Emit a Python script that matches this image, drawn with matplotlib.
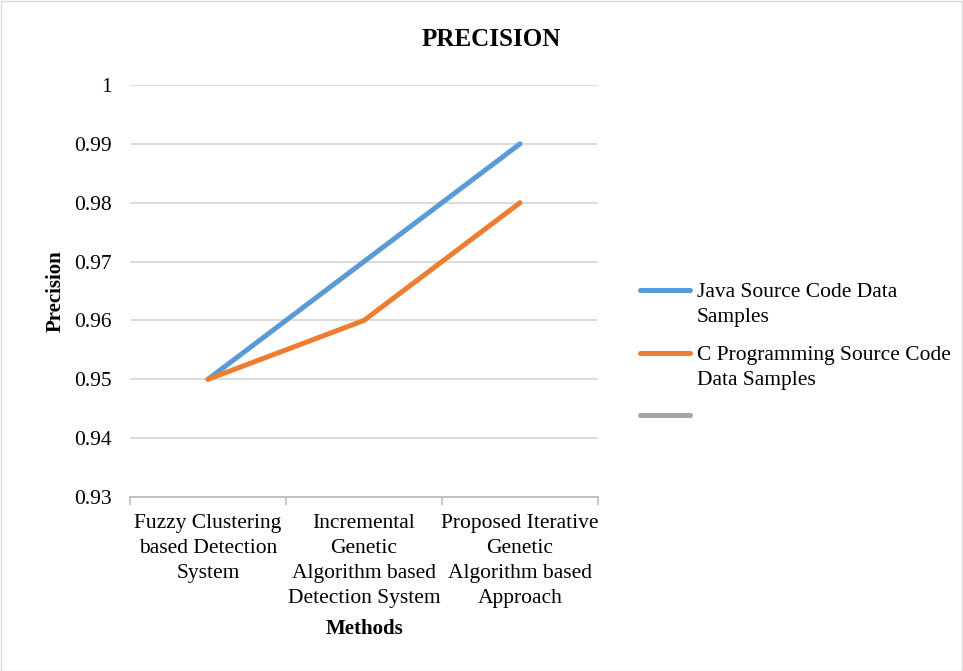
import matplotlib
matplotlib.use("Agg")
import matplotlib.pyplot as plt
from matplotlib.lines import Line2D
from matplotlib.patches import Rectangle
import numpy as np

plt.rcParams['font.family'] = ['Liberation Serif', 'DejaVu Serif']

methods = ["Fuzzy Clustering\nbased Detection\nSystem",
           "Incremental\nGenetic\nAlgorithm based\nDetection System",
           "Proposed Iterative\nGenetic\nAlgorithm based\nApproach"]
java_vals = [0.95, 0.97, 0.99]
c_vals = [0.95, 0.96, 0.98]
series_labels = ["Java Source Code Data\nSamples",
                 "C Programming Source Code\nData Samples",
                 ""]
series_colors = ["#5B9BD5", "#ED7D31", "#A5A5A5"]
y_ticks = [0.93, 0.94, 0.95, 0.96, 0.97, 0.98, 0.99, 1.0]
y_tick_labels = ["0.93", "0.94", "0.95", "0.96", "0.97", "0.98", "0.99", "1"]

W, H = 963, 671
LS = 1.43
fig = plt.figure(figsize=(W / 100, H / 100), dpi=100)
fig.patches.append(Rectangle((0.5 / W, 0.5 / H), 1 - 1.5 / W, 1 - 1.5 / H,
                             transform=fig.transFigure, fill=False,
                             edgecolor="#D9D9D9", lw=1.0))

ax = fig.add_axes([130 / W, 1 - 497 / H, (598 - 130) / W, (497 - 85) / H])
x = np.arange(len(methods))
lw = 3.6
series = [java_vals, c_vals, []]
for vals, col in zip(series, series_colors):
    if len(vals):
        ax.plot(x[:len(vals)], vals, color=col, lw=lw, solid_capstyle="round", zorder=3)

ax.set_xlim(-0.5, len(methods) - 0.5)
ax.set_ylim(0.93, 1.0)
ax.set_yticks(y_ticks)
ax.set_yticklabels(y_tick_labels, fontsize=15.5)
ax.set_xticks(x)
ax.set_xticklabels(methods, fontsize=15.5, linespacing=LS)
ax.set_xticks(np.arange(-0.5, len(methods)), minor=True)
ax.tick_params(axis="x", which="major", length=0, pad=12)
ax.tick_params(axis="x", which="minor", length=6, color="#BFBFBF", width=1.2)
ax.tick_params(axis="y", length=0, pad=13)
ax.grid(axis="y", color="#D9D9D9", lw=1.3)
ax.set_axisbelow(True)
for s in ["top", "right", "left"]:
    ax.spines[s].set_visible(False)
ax.spines["bottom"].set_color("#BFBFBF")
ax.spines["bottom"].set_linewidth(1.3)

ax.set_xlabel("Methods", fontsize=15, fontweight="bold", labelpad=8)
ax.set_ylabel("Precision", fontsize=15, fontweight="bold", labelpad=6)
fig.text(491 / W, 1 - 40 / H, "PRECISION", fontsize=18, fontweight="bold",
         ha="center", va="center")

# legend keys with their labels aligned to the first text line
key_y = [290, 353, 415]
for ky, lab, col in zip(key_y, series_labels, series_colors):
    fig.add_artist(Line2D([640 / W, 690 / W], [1 - ky / H, 1 - ky / H],
                          transform=fig.transFigure, color=col, lw=lw,
                          solid_capstyle="round"))
    if lab:
        fig.text(697 / W, 1 - (ky - 7) / H, lab, fontsize=15.5, ha="left",
                 va="top", linespacing=LS)

fig.savefig("out.png", dpi=100)
